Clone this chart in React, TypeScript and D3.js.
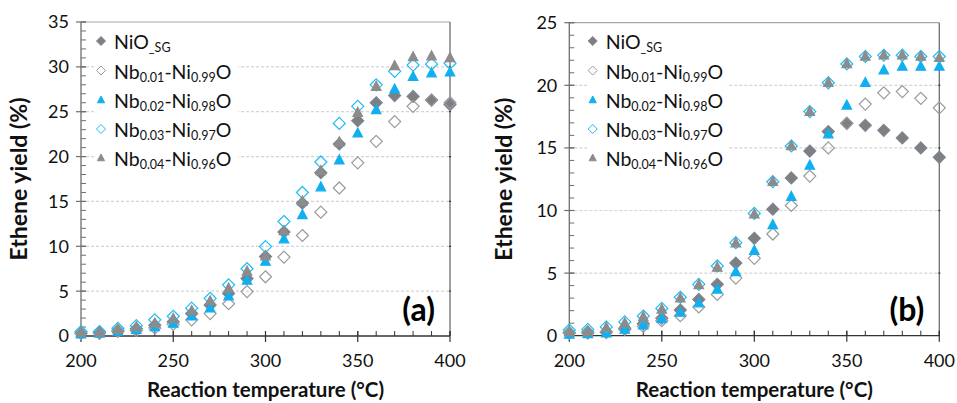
import React from "react";
import * as d3 from "d3";

// ---------- DATA ----------
const temperatures = [200, 210, 220, 230, 240, 250, 260, 270, 280, 290, 300, 310, 320, 330, 340, 350, 360, 370, 380, 390, 400];

// Panel (a)
const a_NiO = [0.3, 0.4, 0.6, 0.8, 1.2, 1.6, 2.5, 3.45, 4.75, 6.4, 8.85, 11.6, 14.8, 18.2, 21.4, 24.0, 26.0, 26.8, 26.7, 26.3, 25.8];
const a_Nb001 = [0.3, 0.3, 0.5, 0.6, 0.9, 1.3, 1.8, 2.5, 3.6, 4.95, 6.6, 8.8, 11.2, 13.8, 16.5, 19.3, 21.7, 23.9, 25.6, 26.3, 26.0];
const a_Nb002 = [0.2, 0.3, 0.5, 0.7, 1.0, 1.4, 2.2, 3.1, 4.45, 6.2, 8.3, 10.8, 13.5, 16.6, 19.6, 22.6, 25.2, 27.5, 28.9, 29.3, 29.4];
const a_Nb003 = [0.5, 0.5, 0.85, 1.15, 1.8, 2.2, 3.1, 4.2, 5.7, 7.5, 9.97, 12.76, 16.0, 19.4, 23.7, 25.6, 28.0, 29.5, 30.2, 30.3, 30.4];
const a_Nb004 = [0.4, 0.4, 0.7, 1.0, 1.4, 1.95, 2.8, 3.9, 5.3, 7.2, 8.9, 11.7, 15.0, 18.4, 21.6, 24.9, 27.8, 30.1, 31.1, 31.2, 31.0];

// Panel (b)
const b_NiO = [0.25, 0.3, 0.3, 0.6, 0.95, 1.4, 2.05, 2.9, 4.1, 5.8, 7.78, 10.1, 12.6, 14.75, 16.3, 16.96, 16.8, 16.4, 15.8, 15.0, 14.25];
const b_Nb001 = [0.2, 0.2, 0.25, 0.5, 0.75, 1.2, 1.6, 2.3, 3.3, 4.6, 6.18, 8.12, 10.4, 12.75, 15.0, 16.96, 18.5, 19.4, 19.5, 18.96, 18.2];
const b_Nb002 = [0.1, 0.15, 0.2, 0.5, 0.85, 1.35, 1.85, 2.6, 3.7, 5.1, 6.8, 8.85, 11.1, 13.6, 16.1, 18.4, 20.2, 21.2, 21.5, 21.5, 21.5];
const b_Nb003 = [0.45, 0.5, 0.7, 1.1, 1.57, 2.18, 3.07, 4.1, 5.57, 7.43, 9.77, 12.3, 15.15, 17.9, 20.2, 21.7, 22.3, 22.4, 22.4, 22.3, 22.3];
const b_Nb004 = [0.3, 0.3, 0.65, 1.0, 1.5, 2.1, 3.0, 4.05, 5.45, 7.4, 9.7, 12.3, 15.15, 17.9, 20.2, 21.7, 22.3, 22.4, 22.4, 22.3, 22.2];

const seriesLabels = [
  [["NiO", false], ["_SG", true]],
  [["Nb", false], ["0.01", true], ["-Ni", false], ["0.99", true], ["O", false]],
  [["Nb", false], ["0.02", true], ["-Ni", false], ["0.98", true], ["O", false]],
  [["Nb", false], ["0.03", true], ["-Ni", false], ["0.97", true], ["O", false]],
  [["Nb", false], ["0.04", true], ["-Ni", false], ["0.96", true], ["O", false]],
];

const xTickLabels = [200, 250, 300, 350, 400];
const yTicksA = [0, 5, 10, 15, 20, 25, 30, 35];
const yTicksB = [0, 5, 10, 15, 20, 25];

// ---------- STYLES ----------
const FONT = "Lato, 'Open Sans', sans-serif";
const markerStyles = [
  { shape: "diamond", fill: "#7f7f7f", stroke: "#7b8596" },
  { shape: "diamond", fill: "none", stroke: "#9a9a9a" },
  { shape: "triangle", fill: "#10b0f0", stroke: "#10b0f0" },
  { shape: "diamond", fill: "none", stroke: "#1cbcf4" },
  { shape: "triangle", fill: "#8c8c8c", stroke: "#8c8c8c" },
];

function markerPath(shape: string, s: number) {
  if (shape === "diamond") return `M0,${-s} L${s},0 L0,${s} L${-s},0 Z`;
  const h = s * 0.95;
  return `M0,${-h} L${s * 0.85},${h * 0.7} L${-s * 0.85},${h * 0.7} Z`;
}

type PanelProps = {
  x0: number; x1: number; yBottom: number; yTop: number; yMax: number;
  yTicks: number[]; series: number[][]; tag: string; titleX: number;
  legendX: number; legendBox: [number, number];
};

function Panel(p: PanelProps) {
  const x = d3.scaleLinear().domain([200, 400]).range([p.x0, p.x1]);
  const y = d3.scaleLinear().domain([0, p.yMax]).range([p.yBottom, p.yTop]);
  const minorY = d3.range(0, p.yMax + 0.001, 1);
  const minorX = d3.range(200, 400.001, 10);
  const axisColor = "#6e6e6e";
  const legendRows = [41, 70.5, 100, 129, 158];
  return (
    <g>
      {p.yTicks.filter((t) => t > 0 && t < p.yMax).map((t) => (
        <line key={"g" + t} x1={p.x0} x2={p.x1} y1={y(t)} y2={y(t)} stroke="#d4d4d4" strokeWidth={1.2} strokeDasharray="3,2" />
      ))}
      <rect x={p.legendBox[0]} y={28} width={p.legendBox[1] - p.legendBox[0]} height={145} fill="#ffffff" />
      <line x1={p.x0} x2={p.x1} y1={y(p.yMax)} y2={y(p.yMax)} stroke="#a6a6a6" strokeWidth={1.2} />
      <line x1={p.x1} x2={p.x1} y1={y(p.yMax)} y2={y(0)} stroke="#6e6e6e" strokeWidth={1.3} />
      {p.yTicks.filter((t) => t > 0 && t < p.yMax).map((t) => (
        <line key={"rt" + t} x1={p.x1 - 1} x2={p.x1 + 1} y1={y(t)} y2={y(t)} stroke="#333" strokeWidth={1.2} />
      ))}
      <line x1={p.x0} x2={p.x0} y1={y(0)} y2={y(p.yMax)} stroke={axisColor} strokeWidth={1.3} />
      {minorY.map((t) => (
        <line key={"my" + t} x1={p.x0} x2={p.x0 + 5} y1={y(t)} y2={y(t)} stroke={axisColor} strokeWidth={1} />
      ))}
      {p.yTicks.map((t) => (
        <g key={"yt" + t}>
          <line x1={p.x0 - 5} x2={p.x0 + 5} y1={y(t)} y2={y(t)} stroke={axisColor} strokeWidth={1.2} />
          <text x={p.x0 - 12} y={y(t)} dy="0.36em" textAnchor="end" fontSize={18} fontFamily={FONT} fill="#111">{t}</text>
        </g>
      ))}
      <line x1={p.x0} x2={p.x1} y1={y(0)} y2={y(0)} stroke="#333" strokeWidth={1.3} />
      {minorX.map((t) => (
        <line key={"mx" + t} x1={x(t)} x2={x(t)} y1={y(0)} y2={y(0) - 5} stroke="#333" strokeWidth={1} />
      ))}
      {xTickLabels.map((t) => (
        <g key={"xt" + t}>
          <line x1={x(t)} x2={x(t)} y1={y(0) - 5} y2={y(0) + 6} stroke="#333" strokeWidth={1.2} />
          <text x={x(t)} y={367} textAnchor="middle" fontSize={18} fontFamily={FONT} fill="#111">{t}</text>
        </g>
      ))}
      <text x={(p.x0 + p.x1) / 2} y={397} textAnchor="middle" fontSize={20.5} fontWeight="bold" fontFamily={FONT} fill="#111">Reaction temperature (°C)</text>
      <text transform={`translate(${p.titleX},${(y(0) + y(p.yMax)) / 2}) rotate(-90)`} textAnchor="middle" dy="0.35em" fontSize={23} fontWeight="bold" fontFamily={FONT} fill="#111">Ethene yield (%)</text>
      {p.series.map((vals, si) => (
        <g key={"s" + si}>
          {vals.map((v, i) => (
            <path key={i} transform={`translate(${x(temperatures[i])},${y(v)})`}
              d={markerPath(markerStyles[si].shape, markerStyles[si].shape === "diamond" ? 6 : 5.6)}
              fill={markerStyles[si].fill} stroke={markerStyles[si].stroke} strokeWidth={1.2} />
          ))}
        </g>
      ))}
      {seriesLabels.map((parts, si) => (
        <g key={"l" + si}>
          <path transform={`translate(${p.legendX},${legendRows[si]})`}
            d={markerPath(markerStyles[si].shape, markerStyles[si].shape === "diamond" ? 4.5 : 4.2)}
            fill={markerStyles[si].fill === "none" ? "#fff" : markerStyles[si].fill} stroke={markerStyles[si].stroke} strokeWidth={1} />
          <text x={p.legendX + 13} y={legendRows[si] + 8} fontSize={19.5} fontFamily={FONT} fill="#111">
            {parts.map(([s, sub], k) => sub
              ? <tspan key={k} fontSize={12.5} dy={3}>{s as string}</tspan>
              : <tspan key={k} fontSize={19.5} dy={k > 0 ? -3 : 0}>{s as string}</tspan>)}
          </text>
        </g>
      ))}
      <text x={p.x1 - 15} y={321} textAnchor="end" fontSize={32} fontWeight="bold" fontFamily={FONT} fill="#000">{p.tag}</text>
    </g>
  );
}

export default function App() {
  return (
    <svg width={957} height={403} style={{ position: "absolute", left: 0, top: 0, background: "#fff" }}>
      <rect x={0} y={0} width={957} height={403} fill="#fff" />
      <Panel x0={81} x1={450} yBottom={336} yTop={22} yMax={35} yTicks={yTicksA}
        series={[a_NiO, a_Nb001, a_Nb002, a_Nb003, a_Nb004]} tag="(a)" titleX={19}
        legendX={101} legendBox={[96, 238]} />
      <Panel x0={569.3} x1={939.3} yBottom={335.7} yTop={22.7} yMax={25} yTicks={yTicksB}
        series={[b_NiO, b_Nb001, b_Nb002, b_Nb003, b_Nb004]} tag="(b)" titleX={504}
        legendX={592.7} legendBox={[587, 727]} />
    </svg>
  );
}
